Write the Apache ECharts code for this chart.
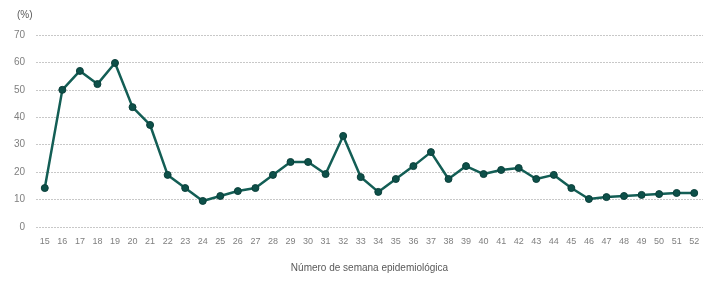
<!DOCTYPE html>
<html><head><meta charset="utf-8">
<script src="https://cdn.jsdelivr.net/npm/echarts@6/dist/echarts.min.js"></script>
<style>html,body{margin:0;padding:0;background:#fff}#c{width:707px;height:285px}</style>
</head><body><div id="c"></div>
<script>
const weeks = ['15','16','17','18','19','20','21','22','23','24','25','26','27','28','29','30','31','32','33','34','35','36','37','38','39','40','41','42','43','44','45','46','47','48','49','50','51','52'];
const values = [14.2,50,56.9,52.1,59.8,43.7,37.2,19,14.2,9.5,11.3,13.1,14.2,19,23.7,23.7,19.3,33.2,18.2,12.8,17.5,22.2,27.3,17.5,22.2,19.3,20.8,21.5,17.5,19,14.2,10.2,10.9,11.3,11.7,12,12.4,12.4];
const yTicks = {min:0, max:70, interval:10};
const yName = '(%)';
const xName = 'Número de semana epidemiológica';

const chart = echarts.init(document.getElementById('c'));
chart.setOption({
  animation:false,
  grid:{left:36, right:4, top:35, bottom:58},
  title:{text:yName, left:12, top:5, textStyle:{fontSize:10, color:'#595959', fontWeight:'normal', fontFamily:'Liberation Sans'}},
  xAxis:{type:'category', data:weeks, boundaryGap:true,
    axisLine:{show:false}, axisTick:{show:false},
    axisLabel:{color:'#7f7f7f', fontSize:9, margin:10, interval:0, fontFamily:'Liberation Sans'},
    name:xName, nameLocation:'middle', nameGap:36,
    nameTextStyle:{color:'#595959', fontSize:10, fontFamily:'Liberation Sans'}},
  yAxis:{type:'value', min:yTicks.min, max:yTicks.max, interval:yTicks.interval,
    axisLine:{show:false}, axisTick:{show:false},
    axisLabel:{color:'#7f7f7f', fontSize:10, margin:11, fontFamily:'Liberation Sans'},
    splitLine:{lineStyle:{color:'#c8c8c8', type:[2,1], width:1}}},
  series:[{type:'line', data:values, symbol:'circle', symbolSize:7,
    lineStyle:{color:'#135e55', width:2.5},
    itemStyle:{color:'#0d5049', borderColor:'#0a3f3a', borderWidth:1}}]
});
</script></body></html>
